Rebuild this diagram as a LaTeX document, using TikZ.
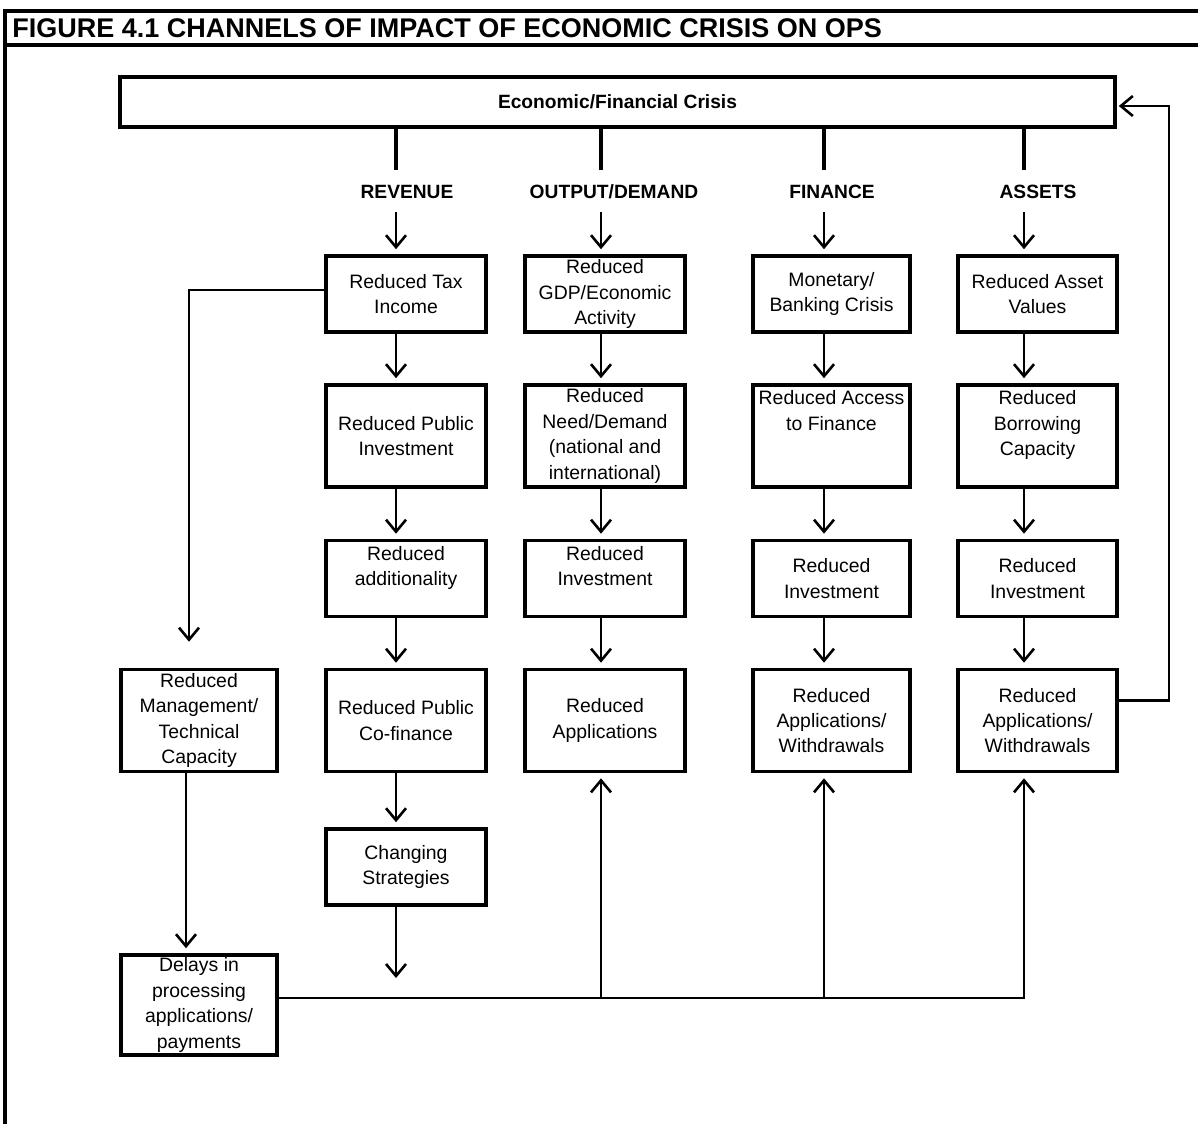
\documentclass[tikz,border=0pt]{standalone}
\usepackage{fontspec}
\setmainfont{Liberation Sans}
\usetikzlibrary{arrows.meta}

\tikzset{
    box/.style={draw, line width=1.8pt, minimum width=80pt, minimum height=38pt, inner sep=0pt, align=center, font=\fontsize{9.7}{12.7}\selectfont},
    tallbox/.style={box, minimum height=51pt},
    chan/.style={font=\bfseries\fontsize{9.6}{11}\selectfont, inner sep=0pt, text height=7pt, text depth=0pt, minimum height=21pt},
    arr/.style={line width=1.3pt, -{Straight Barb[length=6pt,width=10pt]}, shorten >=2.5pt},
    thick line/.style={line width=1.9pt}
}

\begin{document}
\begin{tikzpicture}[x=0.5pt,y=-0.5pt]
    \useasboundingbox (0,0) rectangle (1198,1124);

    \draw [thick line] (5,1124) -- (5,11) -- (1198,11);
    \draw [thick line] (5,45) -- (1198,45);
    \node [anchor=west, inner sep=0pt, font=\bfseries\fontsize{13.5}{15}\selectfont] (title) at (12,28) {FIGURE 4.1 CHANNELS OF IMPACT OF ECONOMIC CRISIS ON OPS};

    \node [box, minimum width=497.5pt, minimum height=25pt, font=\bfseries\fontsize{9.6}{11}\selectfont] (crisis) at (617.5,102) {Economic/Financial Crisis};

    \coordinate (c1) at (396,0);
    \coordinate (c2) at (601,0);
    \coordinate (c3) at (824,0);
    \coordinate (c4) at (1024,0);

    \node [chan] (rev) at (407,191) {REVENUE};
    \node [chan] (outd) at (614,191) {OUTPUT/DEMAND};
    \node [chan] (fin) at (832,191) {FINANCE};
    \node [chan] (ast) at (1038,191) {ASSETS};

    \node [box] (tax) at (406,294) {Reduced Tax\\Income};
    \node [tallbox] (pubinv) at (406,436) {Reduced Public\\Investment};
    \node [box] (addit) at (406,578.5) {Reduced\\additionality\\\mbox{}};
    \node [tallbox] (cofin) at (406,720.5) {Reduced Public\\Co-finance};
    \node [box] (strat) at (406,867) {Changing\\Strategies};

    \node [box] (gdp) at (605,294) {Reduced\\GDP/Economic\\Activity};
    \node [tallbox] (need) at (605,436) {Reduced\\Need/Demand\\(national and\\international)};
    \node [box] (inv2) at (605,578.5) {Reduced\\Investment\\\mbox{}};
    \node [tallbox] (app2) at (605,720.5) {Reduced\\Applications};

    \node [box, minimum width=78.5pt] (monet) at (831.5,294) {Monetary/\\Banking Crisis};
    \node [tallbox, minimum width=78.5pt] (access) at (831.5,436) {Reduced Access\\to Finance\\\mbox{}\\\mbox{}};
    \node [box, minimum width=78.5pt] (inv3) at (831.5,578.5) {Reduced\\Investment};
    \node [tallbox, minimum width=78.5pt] (app3) at (831.5,720.5) {Reduced\\Applications/\\Withdrawals};

    \node [box, minimum width=79.5pt] (asset) at (1037.5,294) {Reduced Asset\\Values};
    \node [tallbox, minimum width=79.5pt] (borrow) at (1037.5,436) {Reduced\\Borrowing\\Capacity\\\mbox{}};
    \node [box, minimum width=79.5pt] (inv4) at (1037.5,578.5) {Reduced\\Investment};
    \node [tallbox, minimum width=79.5pt] (app4) at (1037.5,720.5) {Reduced\\Applications/\\Withdrawals};

    \node [tallbox, minimum width=78pt] (mgmt) at (199,720.5) {Reduced\\Management/\\Technical\\Capacity};
    \node [tallbox, minimum width=78pt, minimum height=50pt] (delays) at (199,1005) {Delays in\\processing\\applications/\\payments};

    \coordinate (stratend) at (396,978);
    \coordinate (b1) at (189,0);
    \coordinate (b2) at (186,0);

    \draw [thick line] (crisis.south -| c1) -- (rev.north -| c1);
    \draw [thick line] (crisis.south -| c2) -- (outd.north -| c2);
    \draw [thick line] (crisis.south -| c3) -- (fin.north -| c3);
    \draw [thick line] (crisis.south -| c4) -- (ast.north -| c4);
    \draw [arr] (rev.south -| c1) -- (tax.north -| c1);
    \draw [arr] (outd.south -| c2) -- (gdp.north -| c2);
    \draw [arr] (fin.south -| c3) -- (monet.north -| c3);
    \draw [arr] (ast.south -| c4) -- (asset.north -| c4);

    \draw [arr] (tax.south -| c1) -- (pubinv.north -| c1);
    \draw [arr] (pubinv.south -| c1) -- (addit.north -| c1);
    \draw [arr] (addit.south -| c1) -- (cofin.north -| c1);
    \draw [arr] (cofin.south -| c1) -- (strat.north -| c1);
    \draw [arr, shorten >=0pt] (strat.south -| c1) -- (stratend);

    \draw [arr] (gdp.south -| c2) -- (need.north -| c2);
    \draw [arr] (need.south -| c2) -- (inv2.north -| c2);
    \draw [arr] (inv2.south -| c2) -- (app2.north -| c2);

    \draw [arr] (monet.south -| c3) -- (access.north -| c3);
    \draw [arr] (access.south -| c3) -- (inv3.north -| c3);
    \draw [arr] (inv3.south -| c3) -- (app3.north -| c3);

    \draw [arr] (asset.south -| c4) -- (borrow.north -| c4);
    \draw [arr] (borrow.south -| c4) -- (inv4.north -| c4);
    \draw [arr] (inv4.south -| c4) -- (app4.north -| c4);

    \draw [arr, shorten >=13pt] ([yshift=2pt]tax.west) -| (mgmt.north -| b1);
    \draw [arr] (mgmt.south -| b2) -- (delays.north -| b2);

    \draw [arr] ([yshift=3.5pt]delays.east) -| (app4.south -| c4);
    \draw [arr] ([yshift=3.5pt]delays.east -| c2) -- (app2.south -| c2);
    \draw [arr] ([yshift=3.5pt]delays.east -| c3) -- (app3.south -| c3);

    \draw [arr, shorten >=1pt] ([yshift=10pt]app4.east) -- ++(50,0) |- ([yshift=-2pt]crisis.east);
\end{tikzpicture}
\end{document}
